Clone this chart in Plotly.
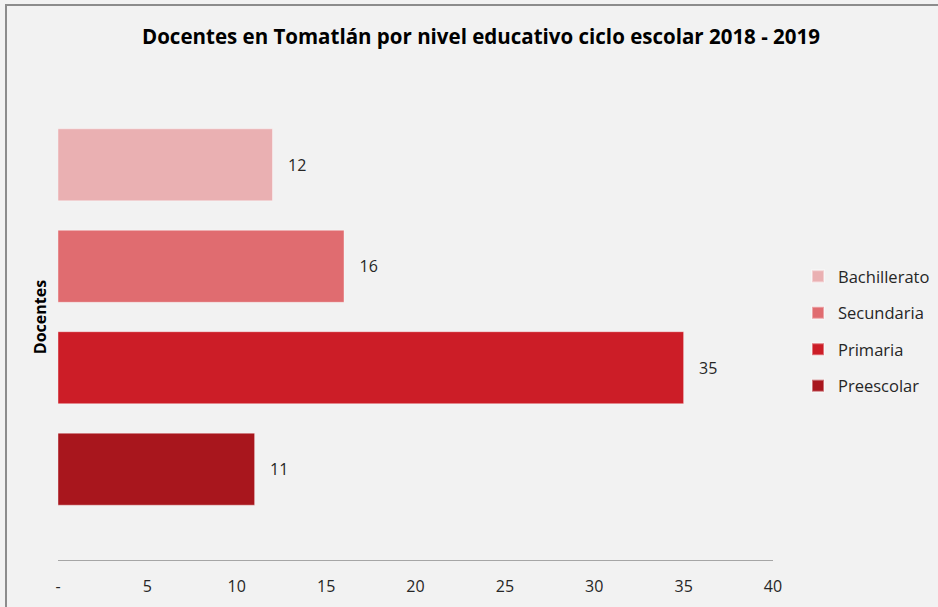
import plotly.graph_objects as go

category = ["Docentes"]
series_names = ["Preescolar", "Primaria", "Secundaria", "Bachillerato"]
series_values = [11, 35, 16, 12]
series_colors = ["#A8161D", "#CC1D27", "#E06C70", "#EAB0B2"]
tick_vals = [0, 5, 10, 15, 20, 25, 30, 35, 40]
tick_text = ["-", "5", "10", "15", "20", "25", "30", "35", "40"]

FONT = "Open Sans"
fig = go.Figure()
n = len(series_names)
for i, (name, val, col) in enumerate(zip(series_names, series_values, series_colors)):
    fig.add_trace(go.Bar(
        y=category, x=[val], name=name, orientation="h", legendgroup=name,
        legendrank=(n - i) * 10,
        marker=dict(color=col, line=dict(color="rgba(255,255,255,0.4)", width=1)),
        text=[val], texttemplate="\u00a0\u00a0\u00a0%{x}", textposition="outside",
        textfont=dict(family=FONT, size=16, color="#262626"),
        cliponaxis=False,
    ))

fig.update_layout(
    width=938, height=607,
    paper_bgcolor="#F2F2F2", plot_bgcolor="#F2F2F2",
    barmode="group", bargap=0.165, bargroupgap=0.29,
    margin=dict(l=58, r=165, t=74, b=47, autoexpand=False),
    title=dict(text="<b>Docentes en Tomatlán por nivel educativo ciclo escolar 2018 - 2019</b>",
               x=481 / 938, xanchor="center", y=1 - 37 / 607, yanchor="middle",
               xref="container", yref="container",
               font=dict(family=FONT, size=20.5, color="#000000")),
    showlegend=True,
    legend=dict(traceorder="grouped", x=1.035, xanchor="left", y=0.471, yanchor="middle",
                font=dict(family=FONT, size=16.5, color="#262626"),
                bgcolor="rgba(0,0,0,0)", itemwidth=30, tracegroupgap=12,
                itemsizing="constant"),
    xaxis=dict(range=[0, 40], tickvals=tick_vals, ticktext=tick_text,
               showgrid=False, zeroline=False, showline=True, linecolor="#A6A6A6",
               linewidth=1, ticks="", ticklabelstandoff=12,
               tickfont=dict(family=FONT, size=16, color="#262626")),
    yaxis=dict(showticklabels=False, showgrid=False, zeroline=False, showline=False,
               title=dict(text="<b>Docentes</b>", standoff=6,
                          font=dict(family=FONT, size=16, color="#000000"))),
    shapes=[dict(type="rect", xref="paper", yref="paper",
                 x0=(6 - 58) / 715, x1=1.5, y0=-0.5, y1=(560 - 5) / 486,
                 line=dict(color="#8C8C8C", width=2), fillcolor="rgba(0,0,0,0)", layer="below")],
)

fig.write_html("out.html", config={"displayModeBar": False},
               post_script="document.body.style.margin='0';document.body.style.overflow='hidden';")
